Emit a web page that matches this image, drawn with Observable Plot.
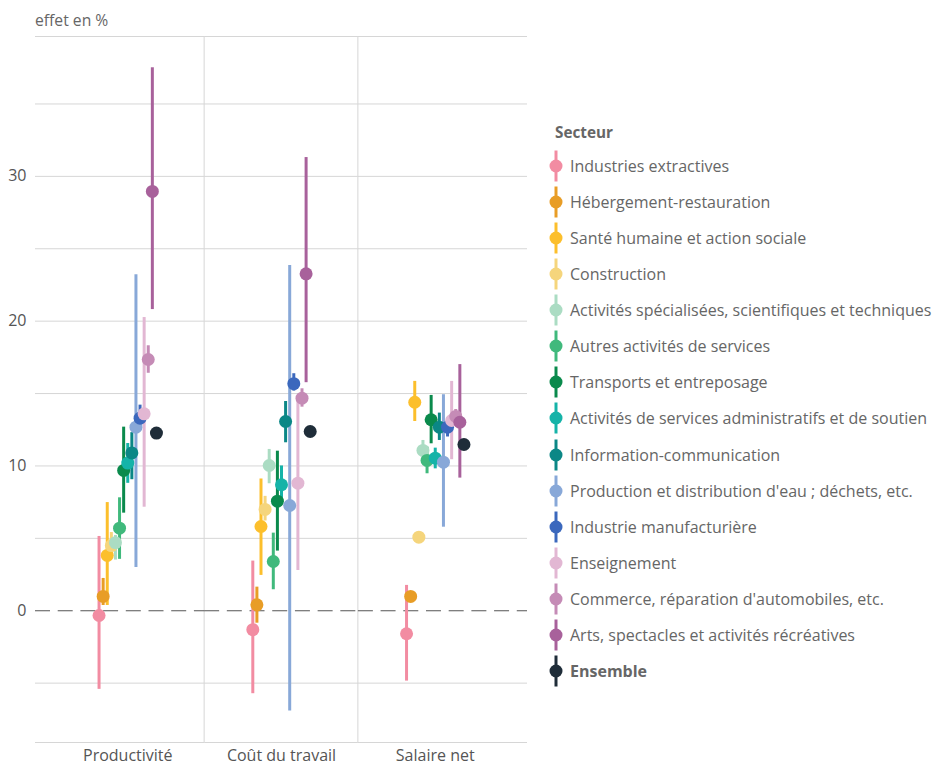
<!DOCTYPE html>
<html>
<head>
<meta charset="utf-8">
<script src="https://cdn.jsdelivr.net/npm/d3@7"></script>
<script src="https://cdn.jsdelivr.net/npm/@observablehq/plot@0.6"></script>
<style>
  body { margin: 0; background: #fff; font-family: "Open Sans", sans-serif; }
  #wrap { position: relative; width: 932px; height: 765px; overflow: hidden; }
  #chart { position: absolute; left: 0; top: 0; }
  #ylabel { position: absolute; left: 35px; top: 9px; font-size: 15.7px; color: #666; }
  #legend-title { position: absolute; left: 555px; top: 122px; font-size: 15.3px; font-weight: 700; color: #666; }
  #legend { position: absolute; left: 548px; top: 148px; }
  .item { display: flex; align-items: center; height: 36.07px; font-size: 16px; color: #666; white-space: nowrap; }
  .item svg { margin-right: 6px; flex: none; }
</style>
</head>
<body>
<div id="wrap">
  <div id="chart"></div>
  <div id="ylabel">effet en %</div>
  <div id="legend-title">Secteur</div>
  <div id="legend"></div>
</div>
<script>
const metrics = ["Productivité", "Coût du travail", "Salaire net"];
const sectors = [
  "Industries extractives",
  "Hébergement-restauration",
  "Santé humaine et action sociale",
  "Construction",
  "Activités spécialisées, scientifiques et techniques",
  "Autres activités de services",
  "Transports et entreposage",
  "Activités de services administratifs et de soutien",
  "Information-communication",
  "Production et distribution d'eau ; déchets, etc.",
  "Industrie manufacturière",
  "Enseignement",
  "Commerce, réparation d'automobiles, etc.",
  "Arts, spectacles et activités récréatives",
  "Ensemble"
];
const colors = ["#f28ca2", "#e89d26", "#fcbf2c", "#f5d57c", "#abdcc3", "#40b97c", "#0a8a4c", "#15b3a8", "#0b8786", "#88a8d8", "#3b68bd", "#e2b7d3", "#c58bb6", "#a8619b", "#1f2d39"];

// Productivité
const prodValue = [-0.33, 0.99, 3.82, 4.5, 4.7, 5.7, 9.69, 10.2, 10.9, 12.68, 13.3, 13.6, 17.35, 28.96, 12.27];
const prodLow   = [-5.43, 0.36, 0.36, 3.9, 3.5, 3.55, 6.74, 8.8, 9.05, 2.99, 12.5, 7.15, 16.4, 20.8, 12.27];
const prodHigh  = [5.13, 2.23, 7.47, 5.4, 5.2, 7.8, 12.68, 11.55, 12.3, 23.2, 14.2, 20.25, 18.3, 37.5, 12.27];
// Coût du travail
const coutValue = [-1.31, 0.41, 5.82, 7.0, 10.03, 3.4, 7.57, 8.7, 13.07, 7.27, 15.68, 8.81, 14.68, 23.27, 12.38];
const coutLow   = [-5.73, -0.86, 2.44, 6.2, 8.77, 1.45, 4.12, 7.4, 11.6, -6.93, 15.17, 2.78, 14.06, 15.75, 12.38];
const coutHigh  = [3.43, 1.63, 9.1, 7.9, 11.14, 5.36, 11.02, 10.0, 14.45, 23.85, 16.37, 14.64, 15.33, 31.3, 12.38];
// Salaire net
const salValue = [-1.59, 0.99, 14.4, 5.08, 11.07, 10.38, 13.19, 10.54, 12.68, 10.26, 12.68, 13.14, 13.42, 13.02, 11.48];
const salLow   = [-4.86, 0.8, 13.07, 4.9, 10.4, 9.46, 11.53, 9.8, 11.76, 5.77, 12.0, 10.43, 12.9, 9.16, 11.48];
const salHigh  = [1.75, 1.2, 15.84, 5.3, 11.76, 11.3, 14.87, 11.23, 13.65, 14.92, 13.3, 15.84, 13.9, 17.0, 11.48];

const yDomain = [-9.1, 39.66];
const yTickLabels = [0, 10, 20, 30];
const gridValues = [-5, 5, 10, 15, 20, 25, 30, 35];

const series = [[prodValue, prodLow, prodHigh], [coutValue, coutLow, coutHigh], [salValue, salLow, salHigh]];
const data = [];
metrics.forEach((m, j) => sectors.forEach((s, i) => data.push({
  metric: m, sector: s, value: series[j][0][i], lo: series[j][1][i], hi: series[j][2][i]
})));

// layout
const W = 540, mL = 35, mR = 13, padOuter = 0.1;
const outer = padOuter * (W - mL - mR) / (metrics.length + 2 * padOuter);

const gridRows = metrics.flatMap(m => [...gridValues, ...yDomain].map(v => ({metric: m, v})));
const zeroRows = metrics.map(m => ({metric: m, v: 0}));
const first = d => d.metric === metrics[0];
const middle = d => d.metric !== metrics[0] && d.metric !== metrics[metrics.length - 1];
const last = d => d.metric === metrics[metrics.length - 1];
const gridStyle = {fx: "metric", y: "v", stroke: "#d6d6d6", strokeWidth: 1};
const zeroStyle = {fx: "metric", y: "v", stroke: "#555", strokeWidth: 1.2, strokeDasharray: "15,7.7"};

const chart = Plot.plot({
  width: W, height: 765,
  marginLeft: mL, marginRight: mR, marginTop: 36, marginBottom: 23,
  style: {fontFamily: "Open Sans", fontSize: "16px", color: "#555", background: "transparent"},
  fx: {domain: metrics, paddingInner: 0, paddingOuter: padOuter, round: false, label: null, axis: "bottom", tickSize: 0, tickPadding: 7},
  x: {type: "point", domain: sectors, padding: 11.75, round: false, axis: null},
  y: {domain: yDomain, axis: null},
  color: {domain: sectors, range: colors},
  marks: [
    Plot.ruleY(gridRows, {...gridStyle, filter: first, insetLeft: -outer}),
    Plot.ruleY(gridRows, {...gridStyle, filter: middle}),
    Plot.ruleY(gridRows, {...gridStyle, filter: last, insetRight: -outer}),
    Plot.ruleY(zeroRows, {...zeroStyle, filter: first, insetLeft: -outer}),
    Plot.ruleY(zeroRows, {...zeroStyle, filter: middle}),
    Plot.ruleY(zeroRows, {...zeroStyle, filter: last, insetRight: -outer}),
    Plot.axisY(yTickLabels, {tickSize: 0, tickPadding: 9 + outer, label: null, fill: "#555"}),
    Plot.ruleX(data, {fx: "metric", x: "sector", y1: "lo", y2: "hi", stroke: "sector", strokeWidth: 3}),
    Plot.dot(data, {fx: "metric", x: "sector", y: "value", fill: "sector", r: 6.5})
  ]
});
document.getElementById("chart").appendChild(chart);

// facet separators drawn from the library's fx and y scales
const fxs = chart.scale("fx"), ys = chart.scale("y");
d3.select(chart).insert("g", ":first-child")
  .selectAll("line").data(metrics.slice(1)).join("line")
  .attr("x1", d => fxs.apply(d)).attr("x2", d => fxs.apply(d))
  .attr("y1", ys.apply(yDomain[1])).attr("y2", ys.apply(yDomain[0]))
  .attr("stroke", "#d6d6d6");

// legend
const legend = d3.select("#legend");
sectors.forEach((s, i) => {
  const row = legend.append("div").attr("class", "item");
  const svg = row.append("svg").attr("width", 16).attr("height", 36);
  svg.append("line").attr("x1", 8).attr("x2", 8).attr("y1", 2.5).attr("y2", 33.5)
    .attr("stroke", colors[i]).attr("stroke-width", 3);
  svg.append("circle").attr("cx", 8).attr("cy", 18).attr("r", 6.5).attr("fill", colors[i]);
  row.append("span").text(s).style("font-weight", s === "Ensemble" ? 700 : 400);
});
</script>
</body>
</html>
